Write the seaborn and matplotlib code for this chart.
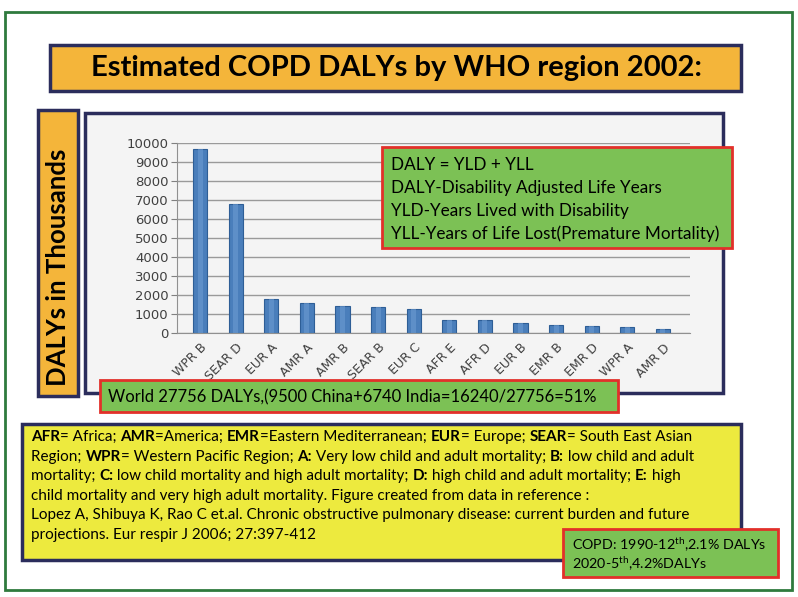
"""
COPD DALYs by WHO region 2002 - slide recreation
"""
import matplotlib
matplotlib.use("Agg")
import matplotlib.pyplot as plt
import seaborn as sns
import pandas as pd
from matplotlib.patches import Rectangle
from matplotlib.font_manager import FontProperties

# data
regions = ["WPR B", "SEAR D", "EUR A", "AMR A", "AMR B", "SEAR B", "EUR C",
           "AFR E", "AFR D", "EUR B", "EMR B", "EMR D", "WPR A", "AMR D"]
dalys = [9650, 6750, 1750, 1580, 1380, 1350, 1260, 680, 650, 490, 390, 330, 300, 200]
yticks = list(range(0, 10001, 1000))

title = "Estimated COPD DALYs by WHO region 2002:"
ylabel = "DALYs in Thousands"
daly_lines = ["DALY = YLD + YLL",
              "DALY-Disability Adjusted Life Years",
              "YLD-Years Lived with Disability",
              "YLL-Years of Life Lost(Premature Mortality)"]
world_note = "World 27756 DALYs,(9500 China+6740 India=16240/27756=51%"
legend_lines = [
    [("AFR", True), ("= Africa; ", False), ("AMR", True), ("=America; ", False),
     ("EMR", True), ("=Eastern Mediterranean; ", False), ("EUR", True),
     ("= Europe; ", False), ("SEAR", True), ("= South East Asian", False)],
    [("Region; ", False), ("WPR", True), ("= Western Pacific Region; ", False),
     ("A:", True), (" Very low child and adult mortality; ", False), ("B:", True),
     (" low child and adult", False)],
    [("mortality; ", False), ("C:", True), (" low child mortality and high adult mortality; ", False),
     ("D:", True), (" high child and adult mortality; ", False), ("E:", True), (" high", False)],
    [("child mortality and very high adult mortality. Figure created from data in reference :", False)],
    [("Lopez A, Shibuya K, Rao C et.al. Chronic obstructive pulmonary disease: current burden and future", False)],
    [("projections. Eur respir J 2006; 27:397-412", False)],
]
copd_lines = [r"COPD: 1990-12$^{\rm th}$,2.1% DALYs", r"2020-5$^{\rm th}$,4.2%DALYs"]

df = pd.DataFrame({"region": regions, "dalys": dalys})

sns.set_style("white")
plt.rcParams["font.family"] = ["Lato", "DejaVu Sans"]
plt.rcParams["mathtext.fontset"] = "custom"
plt.rcParams["mathtext.rm"] = "Lato"
plt.rcParams["mathtext.bf"] = "Lato:bold"

W, H = 798, 597
fig = plt.figure(figsize=(W / 100, H / 100), dpi=100)
fig.patch.set_facecolor("white")

NAVY = "#2B2D5C"
ORANGE = "#F4B53A"
GREEN = "#7CC155"
RED = "#E2302A"
YELLOW = "#EDEA3E"


def box(x0, y0, x1, y1, fc, ec, lw, z=1):
    r = Rectangle((x0 / W, 1 - y1 / H), (x1 - x0) / W, (y1 - y0) / H,
                  transform=fig.transFigure, facecolor=fc, edgecolor=ec,
                  linewidth=lw, zorder=z)
    fig.patches.append(r)


def px(x, y):
    return x / W, 1 - y / H


# frame and panels
box(5, 12, 792, 590, "white", "#2F7A3D", 2.0, z=0.1)
box(50, 45, 741, 91, ORANGE, NAVY, 2.5, z=0.5)
box(38, 110, 78, 396, ORANGE, NAVY, 2.5, z=0.5)
box(85, 113, 723, 393, "#F4F4F4", NAVY, 2.5, z=0.5)

fig.text(*px(396, 68), title, fontsize=21, fontweight="bold", ha="center",
         va="center", color="black", zorder=4)
fig.text(*px(58, 267), ylabel, fontsize=18.5, fontweight="bold", ha="center",
         va="center", rotation=90, color="black", zorder=4)

# chart
ax = fig.add_axes([177 / W, 1 - 332.7 / H, (690 - 177) / W, (332.7 - 142.7) / H])
ax.set_zorder(1)
ax.set_facecolor("none")
sns.barplot(data=df, x="region", y="dalys", ax=ax, color="#4A7EBB",
            edgecolor="#2E5E96", linewidth=0.8, width=0.4, saturation=1)
# lighter core to hint at the cylinder shading
sns.barplot(data=df, x="region", y="dalys", ax=ax, color="#6C9BD2",
            linewidth=0, width=0.14, saturation=1, alpha=0.6)
ax.set_ylim(0, 10000)
ax.set_xlim(-0.65, 13.76)
ax.set_yticks(yticks)
ax.set_yticklabels([str(v) for v in yticks], fontsize=9.5, color="#404040",
                   family="DejaVu Sans")
ax.set_xticks(range(len(regions)))
ax.set_xticklabels(regions, rotation=45, ha="right", rotation_mode="anchor",
                   fontsize=9, color="#404040", family="DejaVu Sans")
ax.set_xticks([i - 0.5 for i in range(len(regions) + 1)], minor=True)
ax.tick_params(axis="x", which="major", length=0, pad=6)
ax.tick_params(axis="x", which="minor", length=4, color="#808080", width=1)
ax.tick_params(axis="y", length=4, color="#808080", left=True, pad=2)
ax.grid(axis="y", color="#9A9A9A", linewidth=1)
ax.set_axisbelow(True)
for s in ["top", "right"]:
    ax.spines[s].set_visible(False)
for s in ["left", "bottom"]:
    ax.spines[s].set_color("#909090")
ax.set_xlabel("")
ax.set_ylabel("")

# DALY definition box
box(382, 147, 732, 248, GREEN, RED, 2.0, z=3)
for i, line in enumerate(daly_lines):
    fig.text(*px(391, 165 + i * 23), line, fontsize=12.3, va="center",
             color="black", zorder=4)

# world note
box(100, 380, 618, 412, GREEN, RED, 2.0, z=3)
fig.text(*px(108, 397), world_note, fontsize=12, va="center", color="black", zorder=4)

# abbreviation box
box(22, 424, 741, 560, YELLOW, NAVY, 2.5, z=2)
renderer = fig.canvas.get_renderer()


def text_width(s, size, bold):
    fp = FontProperties(family=["Lato", "DejaVu Sans"], size=size,
                        weight="bold" if bold else "normal")
    w1, _, _ = renderer.get_text_width_height_descent(s + "x", fp, ismath=False)
    w2, _, _ = renderer.get_text_width_height_descent("x", fp, ismath=False)
    return w1 - w2


fs = 11
for i, parts in enumerate(legend_lines):
    x = 31
    y = 437 + i * 19.6
    for s, bold in parts:
        fig.text(*px(x, y), s, fontsize=fs, fontweight="bold" if bold else "normal",
                 va="center", color="black", zorder=4)
        x += text_width(s, fs, bold)

# COPD rank box
box(563, 529, 778, 577, GREEN, RED, 2.0, z=3)
for i, line in enumerate(copd_lines):
    fig.text(*px(572, 545 + i * 19), line, fontsize=10.3, va="center",
             color="black", zorder=4)

fig.savefig("out.png", dpi=100)
